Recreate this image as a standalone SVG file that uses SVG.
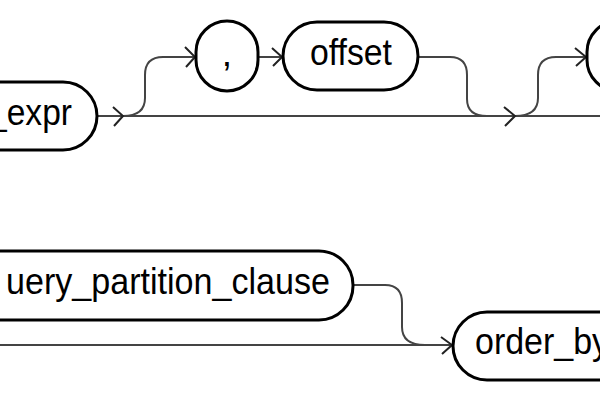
<svg xmlns="http://www.w3.org/2000/svg" width="600" height="400" viewBox="0 0 600 400">
<style>
.node{fill:#fff;stroke:#000;stroke-width:3}
.lbl{font-family:"Liberation Sans",Arial,sans-serif;font-size:37px;fill:#000}
.rail{fill:none;stroke:#444;stroke-width:2}
.arr{fill:none;stroke:#222;stroke-width:2}
</style>
<rect width="600" height="400" fill="#fff"/>
<g id="connectors">
<path class="rail" d="M97,116 L600,116"/>
<path class="rail" d="M123,116 Q145,116 145,98 L145,75 Q145,57 163,57 L194,57"/>
<path class="rail" d="M258,57 L281,57"/>
<path class="rail" d="M418,57 L450,57 Q467,57 467,75 L467,99 Q467,116 487,116"/>
<path class="rail" d="M515,116 Q538,116 538,98 L538,75 Q538,57 556,57 L585,57"/>
<path class="rail" d="M0,345 L452,345"/>
<path class="rail" d="M353,285 L385,285 Q402,285 402,303 L402,327 Q402,345 425,345"/>
<path class="arr" d="M113,107 L123,116 L114,126"/>
<path class="arr" d="M185,47 L195,57 L186,67"/>
<path class="arr" d="M272,48 L282,57 L273,66"/>
<path class="arr" d="M504,107 L515,116 L505,126"/>
<path class="arr" d="M575,48 L586,57 L576,66"/>
<path class="arr" d="M441,337 L452,345 L442,354"/>
</g>
<g id="node-expr">
<rect class="node" x="-200" y="82" width="297" height="68" rx="34"/>
<text class="lbl" x="72" y="125" text-anchor="end" textLength="84" lengthAdjust="spacingAndGlyphs">_expr</text>
</g>
<g id="node-comma">
<rect class="node" x="196" y="21" width="62" height="70" rx="31"/>
<text class="lbl" x="227" y="66" text-anchor="middle">,</text>
</g>
<g id="node-offset">
<rect class="node" x="283" y="22" width="135" height="68" rx="34"/>
<text class="lbl" x="310" y="65" textLength="82" lengthAdjust="spacingAndGlyphs">offset</text>
</g>
<g id="node-next">
<rect class="node" x="587" y="21" width="62" height="70" rx="31"/>
</g>
<g id="node-partition">
<rect class="node" x="-200" y="251" width="553" height="69" rx="34"/>
<text class="lbl" x="6" y="294" textLength="324" lengthAdjust="spacingAndGlyphs">uery_partition_clause</text>
</g>
<g id="node-orderby">
<rect class="node" x="453" y="312" width="300" height="68" rx="34"/>
<text class="lbl" x="475" y="354" textLength="134" lengthAdjust="spacingAndGlyphs">order_by</text>
</g>
</svg>
